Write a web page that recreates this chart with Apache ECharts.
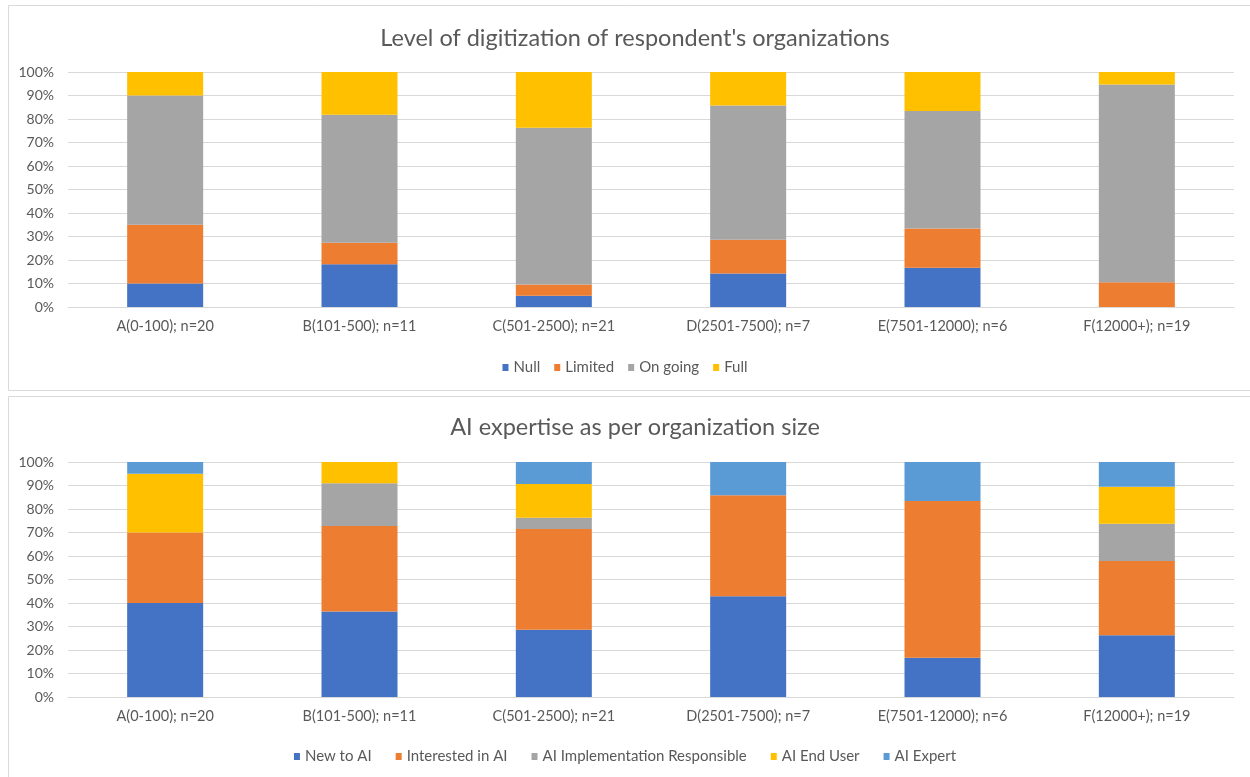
<!DOCTYPE html>
<html>
<head>
<meta charset="utf-8">
<script src="https://cdn.jsdelivr.net/npm/echarts@6/dist/echarts.min.js"></script>
<style>
  html, body { margin: 0; padding: 0; background: #fff; }
  #main { width: 1250px; height: 777px; }
</style>
</head>
<body>
<div id="main"></div>
<script>
// categories shared by both charts
const categories = ['A(0-100); n=20', 'B(101-500); n=11', 'C(501-2500); n=21', 'D(2501-7500); n=7', 'E(7501-12000); n=6', 'F(12000+); n=19']

// chart 1: level of digitization (% of respondents)
const digiNames = ['Null', 'Limited', 'On going', 'Full']
const digiNull = [10, 18.2, 4.8, 14.3, 16.7, 0]
const digiLimited = [25, 9.1, 4.8, 14.3, 16.7, 10.5]
const digiOngoing = [55, 54.5, 66.7, 57.1, 50, 84.2]
const digiFull = [10, 18.2, 23.8, 14.3, 16.7, 5.3]

// chart 2: AI expertise (% of respondents)
const aiNames = ['New to AI', 'Interested in AI', 'AI Implementation Responsible', 'AI End User', 'AI Expert']
const aiNew = [40, 36.4, 28.6, 42.9, 16.7, 26.3]
const aiInterested = [30, 36.4, 42.9, 42.9, 66.7, 31.6]
const aiImpl = [0, 18.2, 4.8, 0, 0, 15.8]
const aiEndUser = [25, 9.1, 14.3, 0, 0, 15.8]
const aiExpert = [5, 0, 9.5, 14.3, 16.7, 10.5]

const yTicks = [0, 10, 20, 30, 40, 50, 60, 70, 80, 90, 100]

const textColor = '#595959'
const gridColor = '#d9d9d9'
const font = 'Lato'

const chart = echarts.init(document.getElementById('main'))

function xAxisFor (gi) {
  return {
    type: 'category',
    gridIndex: gi,
    data: categories,
    axisLine: { show: true, lineStyle: { color: gridColor, width: 1 } },
    axisTick: { show: false },
    axisLabel: { color: textColor, fontSize: 14.5, fontFamily: font, margin: 12, interval: 0 }
  }
}

function yAxisFor (gi) {
  return {
    type: 'value',
    gridIndex: gi,
    min: 0,
    max: 100,
    interval: 10,
    axisLine: { show: false },
    axisTick: { show: false },
    axisLabel: {
      color: textColor,
      fontSize: 14,
      fontFamily: font,
      margin: 14,
      formatter: function (v) { return yTicks.indexOf(v) >= 0 ? v + '%' : '' }
    },
    splitLine: { show: true, lineStyle: { color: gridColor, width: 1 } }
  }
}

function bar (name, data, color, axis) {
  return {
    name: name,
    type: 'bar',
    stack: 's' + axis,
    xAxisIndex: axis,
    yAxisIndex: axis,
    barWidth: 76,
    itemStyle: { color: color },
    data: data
  }
}

const legendText = { color: textColor, fontSize: 15, fontFamily: font }

const option = {
  animation: false,
  textStyle: { fontFamily: font },
  graphic: [
    { type: 'rect', shape: { x: 8.5, y: 5.5, width: 1260, height: 385 }, style: { fill: 'none', stroke: gridColor, lineWidth: 1 } },
    { type: 'rect', shape: { x: 8.5, y: 396.5, width: 1260, height: 400 }, style: { fill: 'none', stroke: gridColor, lineWidth: 1 } }
  ],
  title: [
    { text: "Level of digitization of respondent's organizations", left: 630, top: 21, textAlign: 'center',
      textStyle: { color: textColor, fontSize: 23.5, fontWeight: 'normal', fontFamily: font } },
    { text: 'AI expertise as per organization size', left: 630, top: 410, textAlign: 'center',
      textStyle: { color: textColor, fontSize: 23.5, fontWeight: 'normal', fontFamily: font } }
  ],
  legend: [
    { data: digiNames, top: 355, left: 'center', icon: 'rect', itemWidth: 6, itemHeight: 7, itemGap: 14,
      textStyle: legendText },
    { data: aiNames, top: 744, left: 'center', icon: 'rect', itemWidth: 6, itemHeight: 7, itemGap: 24,
      textStyle: legendText }
  ],
  grid: [
    { left: 68, right: 16, top: 72, height: 235 },
    { left: 68, right: 16, top: 462, height: 235 }
  ],
  xAxis: [xAxisFor(0), xAxisFor(1)],
  yAxis: [yAxisFor(0), yAxisFor(1)],
  series: [
    bar(digiNames[0], digiNull, '#4472C4', 0),
    bar(digiNames[1], digiLimited, '#ED7D31', 0),
    bar(digiNames[2], digiOngoing, '#A5A5A5', 0),
    bar(digiNames[3], digiFull, '#FFC000', 0),
    bar(aiNames[0], aiNew, '#4472C4', 1),
    bar(aiNames[1], aiInterested, '#ED7D31', 1),
    bar(aiNames[2], aiImpl, '#A5A5A5', 1),
    bar(aiNames[3], aiEndUser, '#FFC000', 1),
    bar(aiNames[4], aiExpert, '#5B9BD5', 1)
  ]
}

chart.setOption(option)
</script>
</body>
</html>
